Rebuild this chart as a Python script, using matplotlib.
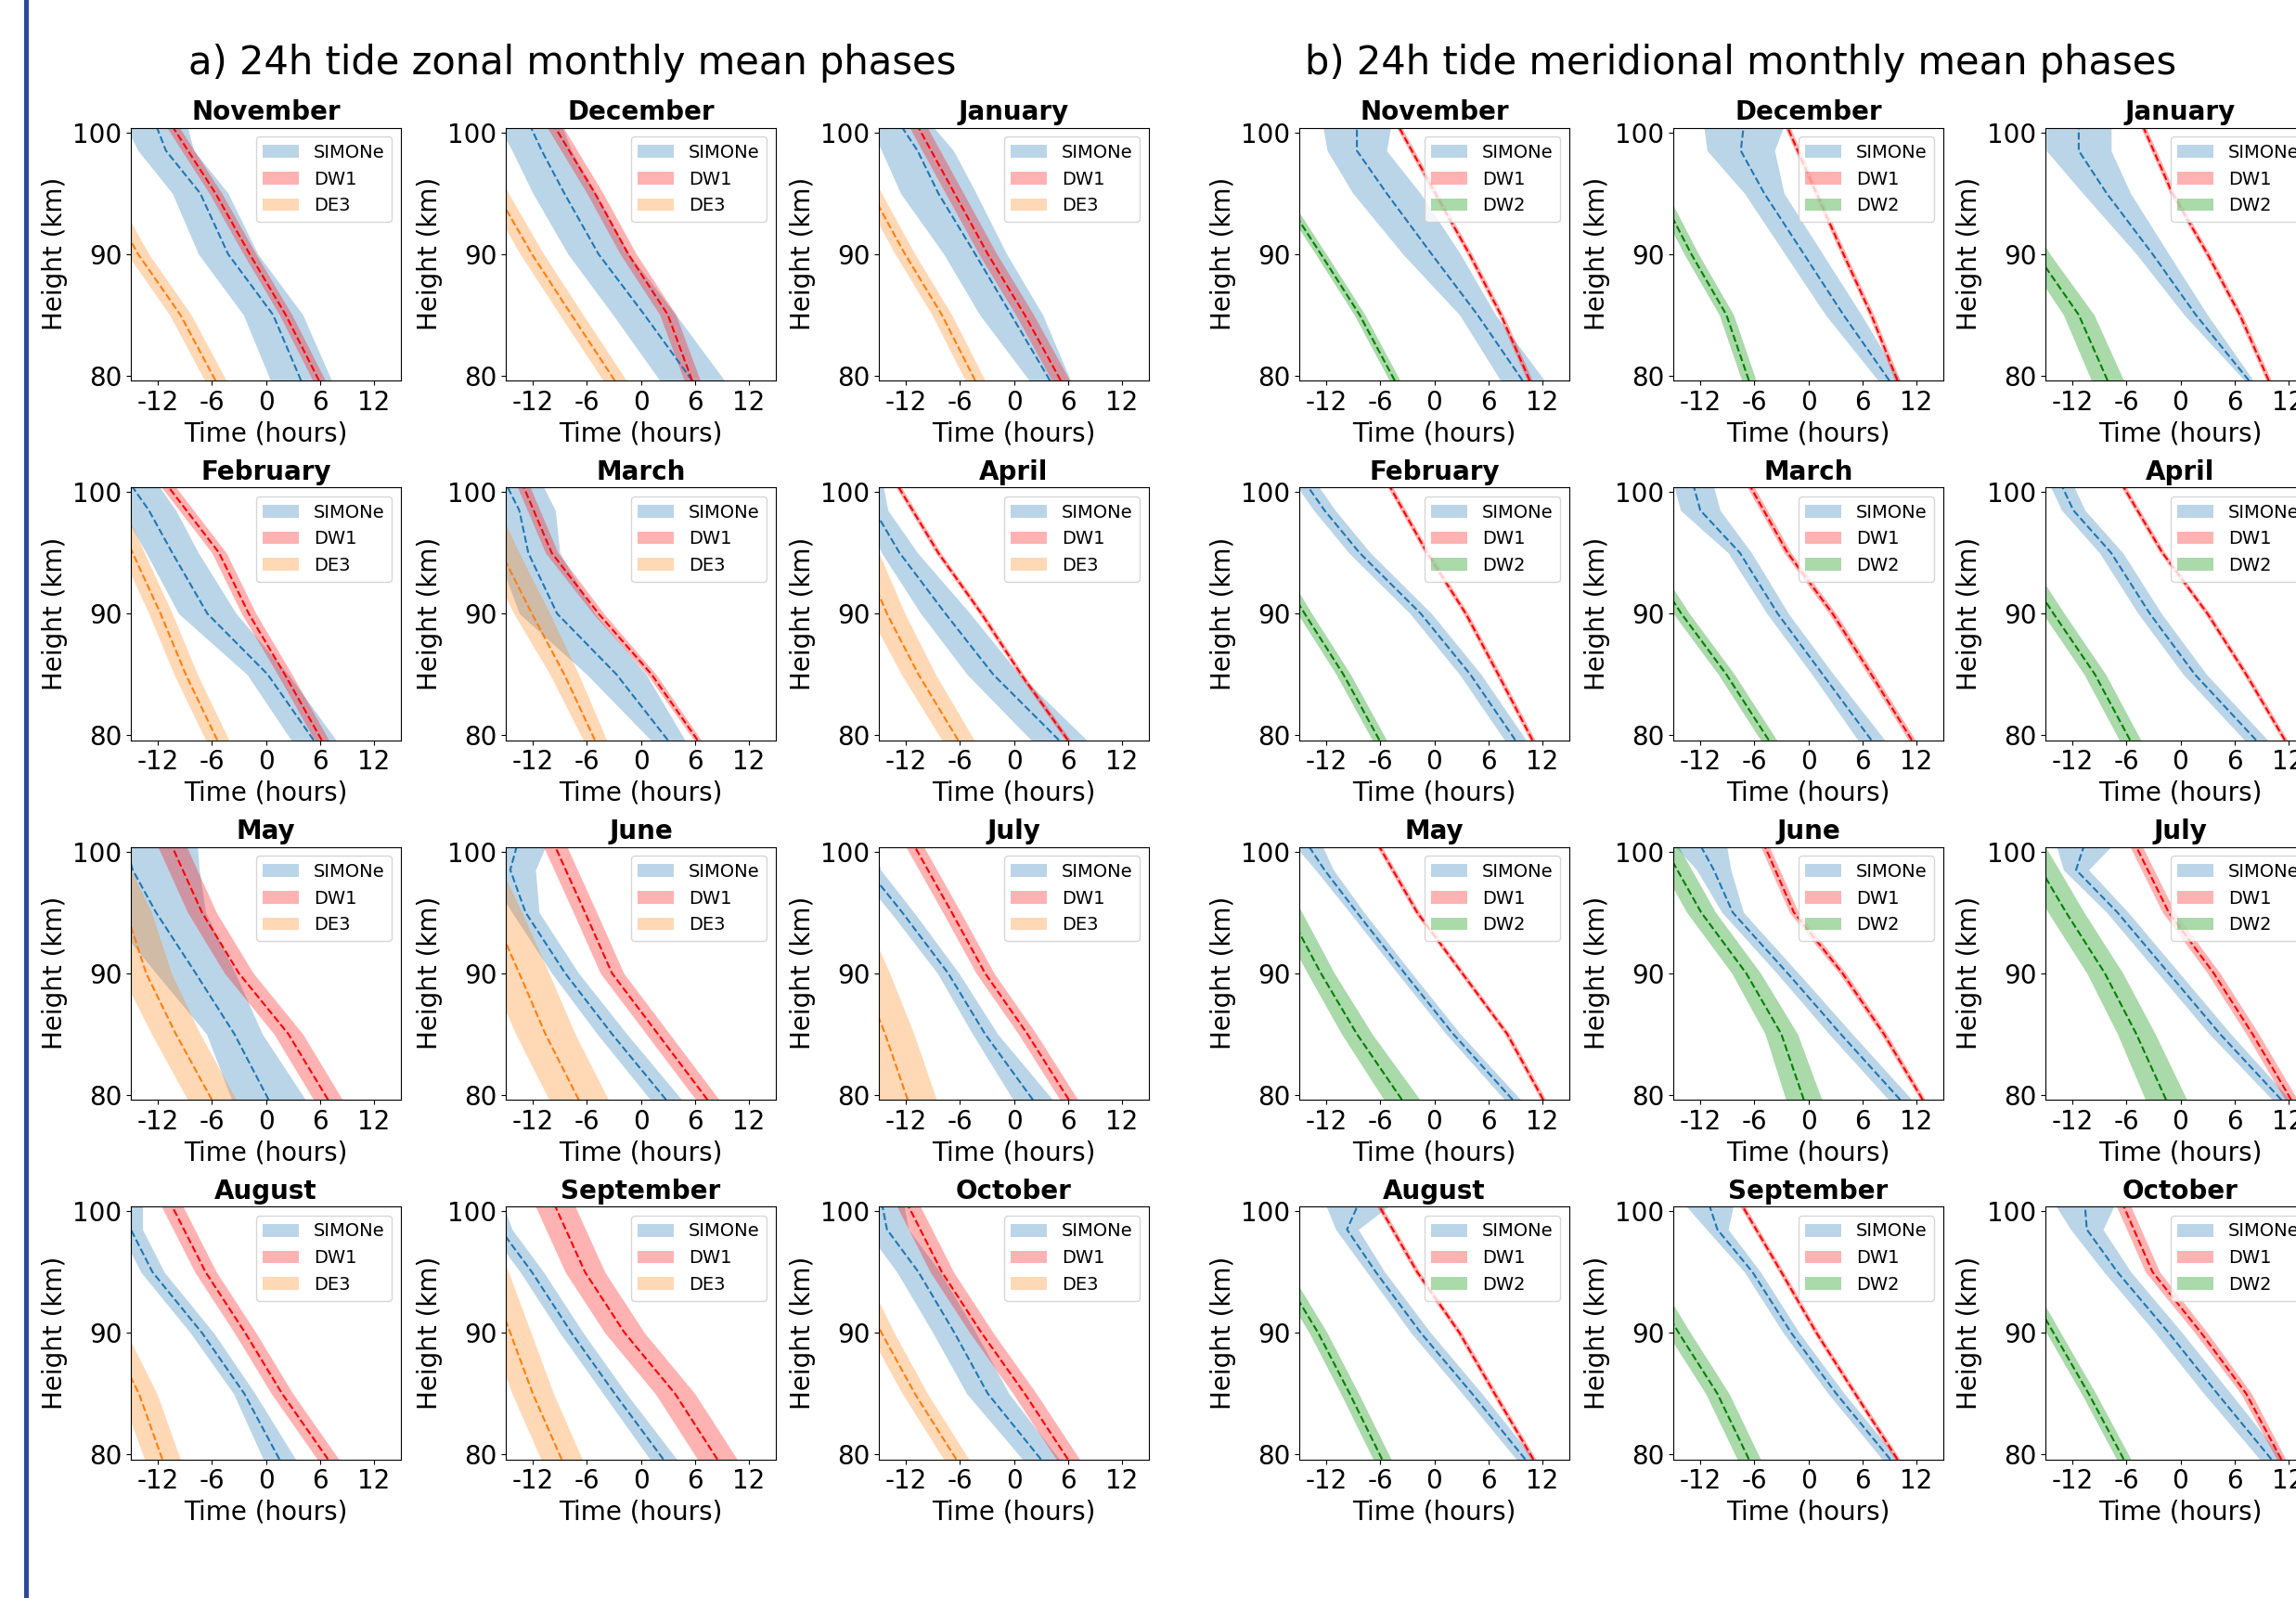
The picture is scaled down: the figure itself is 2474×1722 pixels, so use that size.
import numpy as np
import matplotlib
matplotlib.use('Agg')
import matplotlib.pyplot as plt
from matplotlib.lines import Line2D

plt.rcParams['font.family'] = ['DejaVu Sans']
plt.rcParams['axes.unicode_minus'] = False

# 高度 (km): 潮汐模型用 heights, SIMONe 多一个 98.5 km 的点
heights = [79.6, 85, 90, 95, 100.4]
simone_heights = [79.6, 85, 90, 95, 98.5, 100.4]
months = ['November', 'December', 'January', 'February', 'March', 'April',
          'May', 'June', 'July', 'August', 'September', 'October']

# a) 纬向相位: 中心值 (hours) 与半宽
zonal_simone = [
    [3.9, 0.8, -4.2, -7.3, -11.1, -12.1], [5.7, 0.4, -4.7, -8.5, -11.0, -12.2],
    [4.0, -0.3, -4.3, -8.4, -10.7, -12.4], [5.3, 0.2, -6.5, -10.4, -13.0, -14.8],
    [3.0, -2.7, -9.3, -12.5, -13.5, -14.8], [5.0, -2.3, -7.6, -12.7, -15.5, -16.5],
    [0.3, -3.5, -7.8, -12.2, -14.8, -15.5], [2.8, -3.2, -8.4, -12.8, -14.5, -13.8],
    [2.1, -3.2, -7.3, -12.4, -16.2, -17.0], [1.5, -2.4, -7.1, -12.6, -15.0, -15.0],
    [2.5, -2.9, -7.7, -12.1, -15.6, -16.5], [3.0, -2.9, -6.6, -10.6, -14.1, -14.6]]
zonal_simone_err = [
    [3.4, 3.3, 3.3, 3.1, 3.1, 3.4], [3.6, 3.5, 3.4, 3.5, 3.3, 3.5],
    [2.3, 3.5, 3.5, 4.2, 4.0, 3.5], [2.5, 2.3, 3.2, 2.9, 3.0, 3.0],
    [1.9, 3.3, 4.2, 3.5, 4.0, 4.0], [3.1, 2.9, 2.75, 2.0, 1.5, 2.0],
    [4.1, 3.1, 4.4, 5.5, 7.4, 7.9], [1.75, 1.65, 1.5, 1.5, 2.8, 3.2],
    [2.2, 1.4, 1.2, 1.3, 1.4, 1.5], [1.8, 1.2, 1.3, 1.3, 1.3, 1.3],
    [1.5, 1.3, 1.3, 1.3, 1.3, 1.3], [2.05, 2.35, 2.4, 2.4, 2.4, 2.4]]
zonal_dw1 = [
    [5.9, 2.2, -1.8, -5.6, -10.3], [5.7, 3.0, -1.4, -5.1, -9.5], [5.2, 1.2, -2.9, -6.6, -10.6],
    [6.2, 2.1, -1.9, -5.2, -10.8], [6.3, 1.2, -4.7, -9.9, -13.0], [6.0, 0.8, -3.6, -8.4, -12.8],
    [6.9, 2.5, -3.0, -7.1, -10.4], [7.4, 1.9, -3.2, -6.2, -9.5], [6.1, 1.5, -3.2, -6.9, -11.0],
    [6.9, 1.8, -2.3, -6.7, -10.4], [8.5, 3.8, -1.8, -6.2, -9.5], [6.0, 1.2, -3.6, -8.0, -11.7]]
zonal_dw1_err = [
    [0.7] * 5, [0.9] * 5, [1.0] * 5, [0.8] * 5, [0.4, 0.5, 0.6, 0.7, 0.7], [0.3] * 5,
    [1.6] * 5, [1.3] * 5, [1.0] * 5, [1.2] * 5, [2.2] * 5, [1.3] * 5]
zonal_de3 = [
    [-5.6, -9.5, -14.2, -18.0, -22.0], [-2.9, -7.7, -12.1, -16.0, -20.0], [-4.3, -8.0, -12.1, -15.8, -19.5],
    [-5.4, -8.9, -11.7, -14.8, -18.0], [-5.1, -8.5, -12.1, -15.5, -19.0], [-6.2, -10.6, -14.1, -17.0, -20.0],
    [-6.0, -10.0, -13.3, -15.5, -19.0], [-6.9, -10.6, -13.5, -16.5, -20.0], [-11.8, -14.3, -17.0, -20.0, -23.0],
    [-11.5, -14.1, -17.5, -21.0, -24.0], [-8.8, -12.0, -14.5, -17.0, -20.0], [-6.4, -11.0, -14.7, -18.0, -21.5]]
zonal_de3_err = [
    [1.2] * 5, [1.3] * 5, [1.1] * 5, [1.3] * 5, [1.3, 1.6, 2.0, 2.0, 2.0], [1.8, 1.9, 2.0, 2.0, 2.0],
    [2.7, 2.7, 2.8, 2.8, 2.8], [3.3] * 5, [3.2] * 5, [2.0] * 5, [2.3] * 5, [1.4] * 5]

# b) 经向相位
merid_simone = [
    [9.8, 4.8, -0.3, -5.3, -8.6, -8.6], [9.0, 3.9, -0.5, -4.9, -7.5, -7.2],
    [7.6, 1.7, -3.1, -8.2, -11.3, -11.3], [9.0, 4.0, -1.5, -8.3, -12.2, -14.0],
    [7.0, 1.6, -3.4, -7.6, -12.0, -12.7], [8.4, 1.6, -3.4, -7.7, -11.9, -13.1],
    [8.7, 2.1, -3.3, -8.6, -12.2, -13.9], [10.2, 3.6, -2.3, -8.4, -10.5, -11.9],
    [11.2, 4.4, -1.3, -7.0, -11.6, -10.75], [10.1, 4.2, -1.5, -6.5, -9.7, -8.55],
    [9.1, 3.1, -1.9, -6.2, -10.1, -10.95], [10.1, 4.1, -1.3, -7.0, -10.4, -10.6]]
merid_simone_err = [
    [2.45, 2.0, 3.2, 3.75, 3.3, 3.75], [1.25, 2.0, 2.1, 2.2, 3.75, 4.4],
    [0.5, 1.3, 1.8, 2.65, 3.6, 3.6], [1.2] * 6,
    [1.5, 1.2, 1.2, 1.3, 2.2, 2.2], [1.3] * 6,
    [0.9, 0.8, 0.8, 0.8, 1.0, 1.5], [1.3, 1.3, 1.2, 1.2, 1.9, 2.85],
    [1.0, 1.2, 1.2, 1.2, 1.4, 3.0], [1.0, 1.1, 1.1, 1.0, 1.25, 3.45],
    [0.9, 0.9, 0.9, 0.9, 1.2, 2.6], [1.3, 1.5, 1.5, 1.5, 1.8, 3.2]]
merid_dw1 = [
    [10.6, 7.4, 3.9, 0.1, -3.9], [9.9, 7.0, 3.9, 0.9, -2.3], [9.8, 6.6, 3.0, -0.9, -4.1],
    [10.9, 7.1, 3.5, -0.8, -4.9], [11.5, 7.0, 2.7, -2.3, -6.4], [11.6, 7.3, 3.0, -2.0, -6.3],
    [12.1, 8.1, 3.1, -1.9, -6.1], [12.7, 8.4, 3.8, -1.6, -4.8], [12.3, 8.0, 3.7, -1.3, -4.9],
    [11.0, 6.7, 2.8, -1.9, -6.1], [9.9, 5.2, 0.9, -3.0, -7.3], [11.2, 7.3, 2.3, -3.1, -6.3]]
merid_dw1_err = [
    [0.3] * 5, [0.3] * 5, [0.3] * 5, [0.3] * 5, [0.4] * 5, [0.3] * 5,
    [0.3] * 5, [0.3, 0.35, 0.4, 0.5, 0.5], [0.7] * 5, [0.3] * 5, [0.3] * 5, [0.5, 0.6, 0.7, 0.8, 0.8]]
merid_dw2 = [
    [-4.4, -8.3, -12.6, -17.0, -21.0], [-6.6, -9.1, -13.0, -16.5, -20.5], [-8.1, -11.3, -16.0, -20.0, -24.0],
    [-6.1, -10.1, -14.4, -18.5, -22.5], [-4.4, -9.1, -14.1, -18.5, -22.5], [-5.6, -9.5, -14.1, -18.5, -22.5],
    [-3.6, -8.6, -12.6, -16.2, -20.0], [-0.5, -3.0, -6.9, -11.9, -16.0], [-1.6, -4.9, -8.4, -12.7, -17.0],
    [-5.8, -9.4, -12.9, -17.0, -21.0], [-6.6, -10.1, -14.4, -18.5, -22.5], [-6.3, -10.2, -14.1, -18.0, -22.0]]
merid_dw2_err = [
    [0.6] * 5, [0.8] * 5, [1.8, 1.7, 1.5, 1.5, 1.5], [0.8] * 5, [0.9] * 5, [1.2] * 5,
    [2.0, 1.7, 1.5, 1.5, 1.5], [2.0, 1.8, 1.6, 1.6, 1.6], [2.3, 2.1, 2.0, 2.0, 2.0],
    [1.0] * 5, [1.3] * 5, [0.8] * 5]

W, H = 2474, 1722
fig = plt.figure(figsize=(W / 100, H / 100), dpi=100)

col_left = [141, 545, 947, 1400, 1803, 2204]
row_top = [137.5, 525, 912.5, 1300]
ax_w, ax_h = 291, 272.5


def draw_panel(ax, month, series):
    for (hh, c, e, color, lcolor, alpha, label) in series:
        c = np.array(c)
        e = np.array(e)
        ax.fill_betweenx(hh, c - e, c + e, color=color, alpha=alpha, lw=0, label=label)
        ax.plot(c, hh, '--', color=lcolor, lw=1.5)
    ax.set_xlim(-15, 15)
    ax.set_ylim(79.6, 100.4)
    ax.set_xticks([-12, -6, 0, 6, 12])
    ax.set_yticks([80, 90, 100])
    ax.tick_params(labelsize=20)
    ax.set_xlabel('Time (hours)', fontsize=20)
    ax.set_ylabel('Height (km)', fontsize=20)
    ax.set_title(month, fontsize=20, fontweight='bold', pad=6)
    ax.legend(loc='upper right', fontsize=14)


for i, month in enumerate(months):
    r, c = divmod(i, 3)
    # 纬向
    ax = fig.add_axes([col_left[c] / W, 1 - (row_top[r] + ax_h) / H, ax_w / W, ax_h / H])
    draw_panel(ax, month, [
        (simone_heights, zonal_simone[i], zonal_simone_err[i], 'tab:blue', 'tab:blue', 0.3, 'SIMONe'),
        (heights, zonal_dw1[i], zonal_dw1_err[i], 'red', 'red', 0.3, 'DW1'),
        (heights, zonal_de3[i], zonal_de3_err[i], 'tab:orange', 'tab:orange', 0.3, 'DE3'),
    ])
    # 经向
    ax = fig.add_axes([col_left[c + 3] / W, 1 - (row_top[r] + ax_h) / H, ax_w / W, ax_h / H])
    draw_panel(ax, month, [
        (simone_heights, merid_simone[i], merid_simone_err[i], 'tab:blue', 'tab:blue', 0.3, 'SIMONe'),
        (heights, merid_dw1[i], merid_dw1_err[i], 'red', 'red', 0.3, 'DW1'),
        (heights, merid_dw2[i], merid_dw2_err[i], 'tab:green', 'green', 0.4, 'DW2'),
    ])

fig.text(617 / W, 1 - 68 / H, 'a) 24h tide zonal monthly mean phases', fontsize=30, ha='center', va='center')
fig.text(1876 / W, 1 - 68 / H, 'b) 24h tide meridional monthly mean phases', fontsize=30, ha='center', va='center')

# 左侧蓝色竖线
fig.add_artist(Line2D([27.5 / W, 27.5 / W], [0, 1], color='#2B4A9B', lw=3.6))

fig.savefig('out.png', dpi=100)
